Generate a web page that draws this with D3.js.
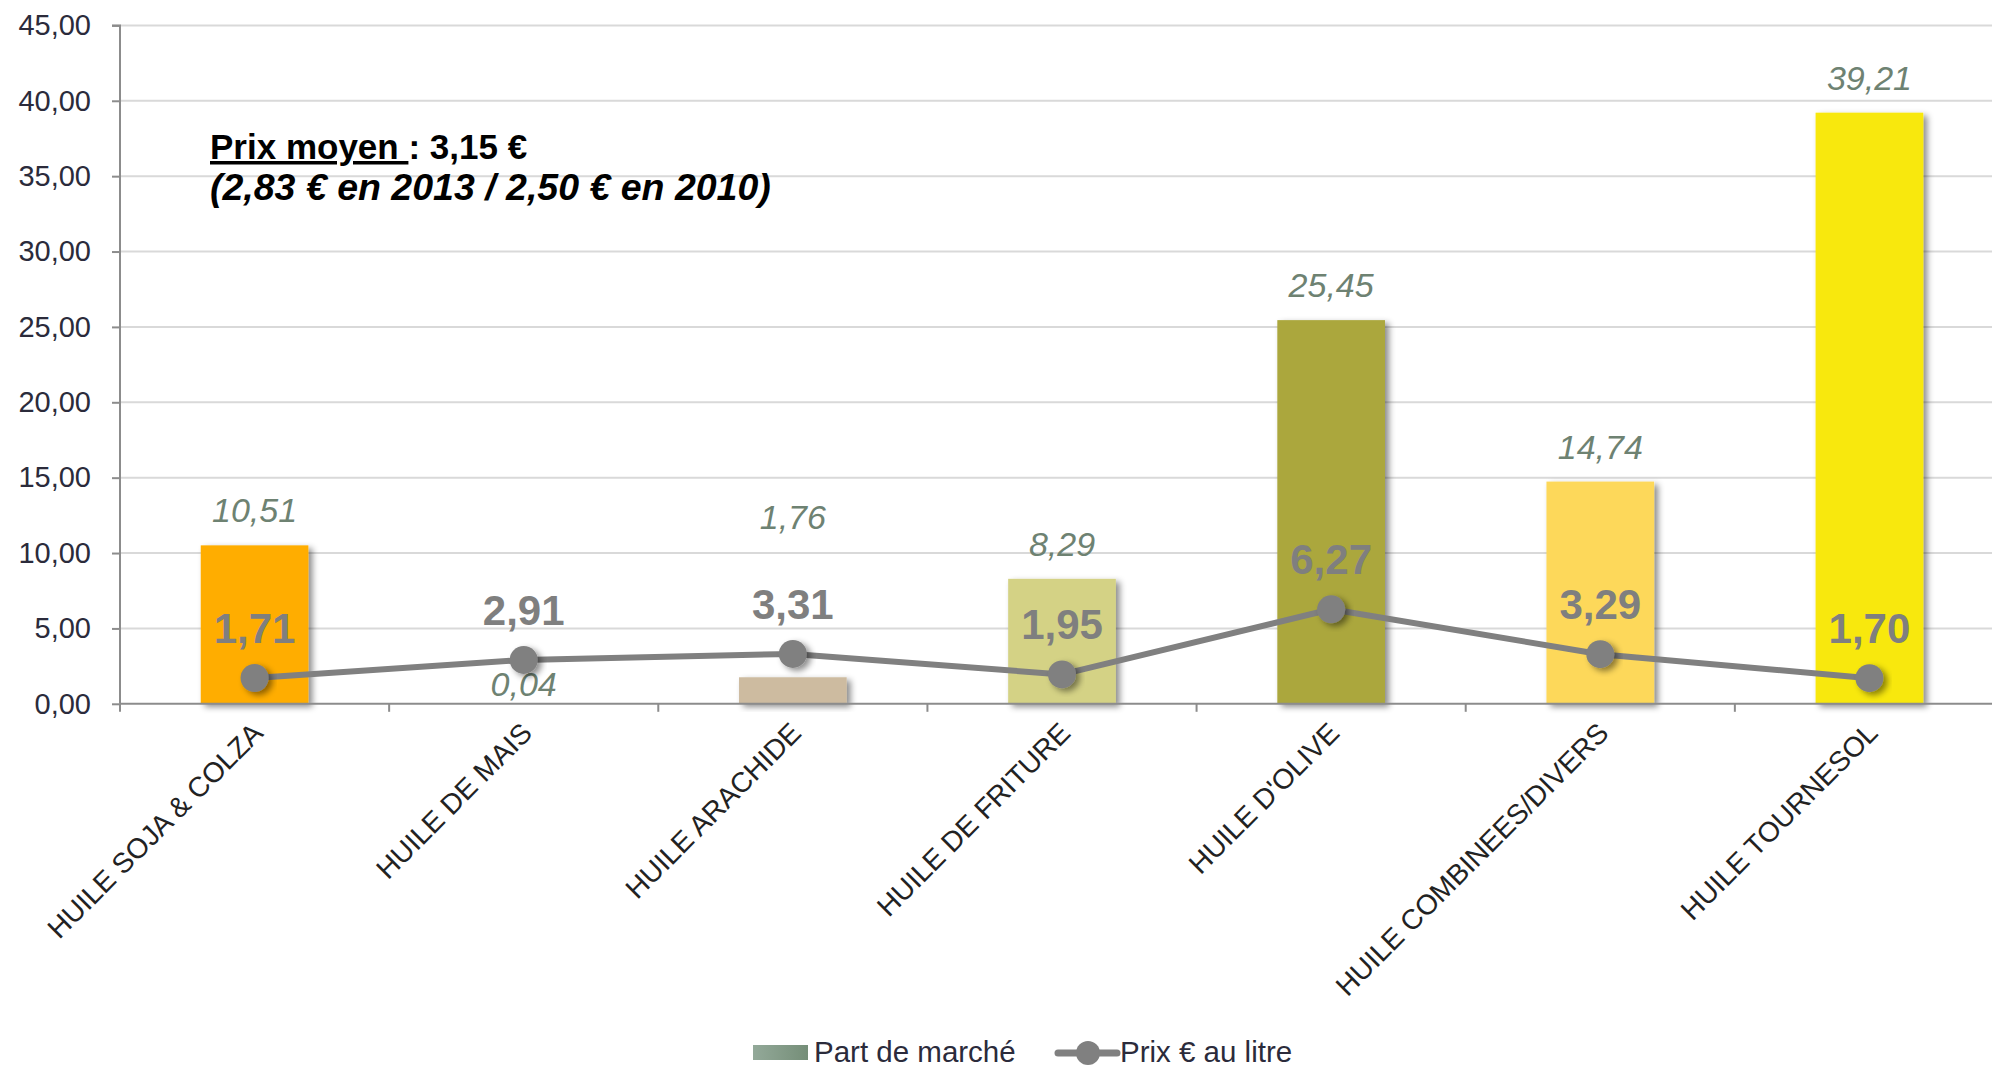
<!DOCTYPE html>
<html>
<head>
<meta charset="utf-8">
<script src="https://cdn.jsdelivr.net/npm/d3@7"></script>
<style>
  html, body { margin: 0; padding: 0; background: #fff; }
  svg { display: block; }
</style>
</head>
<body>
<svg id="chart" width="1992" height="1067"></svg>
<script>
// ---- Data ----
const categories = ["HUILE SOJA & COLZA", "HUILE DE MAIS", "HUILE ARACHIDE", "HUILE DE FRITURE", "HUILE D'OLIVE", "HUILE COMBINEES/DIVERS", "HUILE TOURNESOL"];
const partDeMarche = [10.51, 0.04, 1.76, 8.29, 25.45, 14.74, 39.21];
const prixLitre = [1.71, 2.91, 3.31, 1.95, 6.27, 3.29, 1.70];
const barColors = ["#FFAD00", "#E3D49A", "#CDBBA0", "#D4D285", "#ABA73C", "#FDD85A", "#F8E80F"];
const yTicks = [0, 5, 10, 15, 20, 25, 30, 35, 40, 45];
const seriesNames = ["Part de marché", "Prix € au litre"];
const noteLine1a = "Prix moyen ";
const noteLine1b = ": 3,15 €";
const noteLine2 = "(2,83 € en 2013 / 2,50 € en 2010)";

// ---- Setup ----
const locale = d3.formatLocale({decimal: ",", thousands: " ", grouping: [3], currency: ["", " €"]});
const fmt2 = locale.format(".2f");
const FONT = "Liberation Sans, Arial, sans-serif";

const svg = d3.select("#chart");
const mLeft = 120, mRight = 2004, mTop = 25.4, mBottom = 703.8;

const defs = svg.append("defs");
const shadow = defs.append("filter").attr("id", "shadow")
  .attr("x", "-20%").attr("y", "-20%").attr("width", "150%").attr("height", "150%");
shadow.append("feDropShadow").attr("dx", 4).attr("dy", 3).attr("stdDeviation", 3)
  .attr("flood-color", "#000").attr("flood-opacity", 0.45);
const grad = defs.append("linearGradient").attr("id", "legendGrad");
grad.append("stop").attr("offset", "0%").attr("stop-color", "#93A999");
grad.append("stop").attr("offset", "100%").attr("stop-color", "#758E78");

const x = d3.scaleBand().domain(categories).range([mLeft, mRight]).paddingInner(0.6).paddingOuter(0.3);
const xCat = d3.scaleBand().domain(categories).range([mLeft, mRight]).padding(0);
const y = d3.scaleLinear().domain([0, 45]).range([mBottom, mTop]);

// Gridlines
svg.append("g").selectAll("line").data(yTicks.filter(d => d > 0)).join("line")
  .attr("x1", mLeft).attr("x2", 1992)
  .attr("y1", d => y(d)).attr("y2", d => y(d))
  .attr("stroke", "#d9d9d9").attr("stroke-width", 2);

// Y axis
const yAxis = svg.append("g").attr("transform", `translate(${mLeft},0)`)
  .call(d3.axisLeft(y).tickValues(yTicks).tickFormat(fmt2).tickSize(8).tickPadding(21));
yAxis.select(".domain").attr("stroke", "#8c8c8c").attr("stroke-width", 2).attr("d", `M-8,${mTop}H0V${mBottom}`);
yAxis.selectAll(".tick line").attr("stroke", "#8c8c8c").attr("stroke-width", 2);
yAxis.selectAll(".tick text").attr("font-family", FONT).attr("font-size", 29).attr("fill", "#2b2b3b");

// Bars
svg.append("g").selectAll("rect").data(categories).join("rect")
  .attr("x", d => x(d))
  .attr("width", x.bandwidth())
  .attr("y", (d, i) => y(partDeMarche[i]))
  .attr("height", (d, i) => y(0) - y(partDeMarche[i]))
  .attr("fill", (d, i) => barColors[i])
  .attr("filter", "url(#shadow)");

// X axis (domain + boundary ticks)
const xg = svg.append("g");
xg.append("line").attr("x1", mLeft).attr("x2", 1992).attr("y1", y(0)).attr("y2", y(0))
  .attr("stroke", "#8c8c8c").attr("stroke-width", 2);
xg.selectAll("line.tick").data(categories).join("line").attr("class", "tick")
  .attr("x1", d => xCat(d)).attr("x2", d => xCat(d))
  .attr("y1", y(0)).attr("y2", y(0) + 8)
  .attr("stroke", "#8c8c8c").attr("stroke-width", 2);
xg.selectAll("text").data(categories).join("text")
  .attr("transform", d => `translate(${x(d) + x.bandwidth() / 2 + 3},${y(0) + 24}) rotate(-45)`)
  .attr("text-anchor", "end").attr("dy", "0.35em")
  .attr("font-family", FONT).attr("font-size", 28.1).attr("fill", "#222")
  .text(d => d);

// Bar value labels
const barLabelDy = [-23, 0, 0, -23, -23, -23, -23];
svg.append("g").selectAll("text").data(categories).join("text")
  .attr("x", d => x(d) + x.bandwidth() / 2)
  .attr("y", (d, i) => {
    if (i === 1) return y(0) - 8;
    if (i === 2) return y(11.6);
    return y(partDeMarche[i]) + barLabelDy[i];
  })
  .attr("text-anchor", "middle")
  .attr("font-family", FONT).attr("font-style", "italic")
  .attr("font-size", 34).attr("fill", "#6E8272")
  .text((d, i) => fmt2(partDeMarche[i]));

// Price line
const line = d3.line().x((d, i) => x(categories[i]) + x.bandwidth() / 2).y(d => y(d));
svg.append("path").datum(prixLitre).attr("d", line)
  .attr("fill", "none").attr("stroke", "#808080").attr("stroke-width", 6).attr("stroke-linejoin", "round");
svg.append("g").selectAll("circle").data(prixLitre).join("circle")
  .attr("cx", (d, i) => x(categories[i]) + x.bandwidth() / 2)
  .attr("cy", d => y(d)).attr("r", 14)
  .attr("fill", "#808080").attr("filter", "url(#shadow)");
svg.append("g").selectAll("text").data(prixLitre).join("text")
  .attr("x", (d, i) => x(categories[i]) + x.bandwidth() / 2)
  .attr("y", d => y(d) - 35)
  .attr("text-anchor", "middle")
  .attr("font-family", FONT).attr("font-weight", "bold")
  .attr("font-size", 42).attr("fill", "#7f7f7f")
  .text(d => fmt2(d));

// Annotation
const note = svg.append("g").attr("font-family", FONT).attr("font-weight", "bold").attr("fill", "#000");
const t1 = note.append("text").attr("x", 210).attr("y", 159).attr("font-size", 35);
t1.append("tspan").attr("text-decoration", "underline").text(noteLine1a);
t1.append("tspan").text(noteLine1b);
note.append("text").attr("x", 210).attr("y", 200).attr("font-size", 37.5).attr("font-style", "italic").text(noteLine2);

// Legend
const lg = svg.append("g").attr("font-family", FONT).attr("font-size", 29.5).attr("fill", "#2b2b3b");
lg.append("rect").attr("x", 753).attr("y", 1045).attr("width", 55).attr("height", 15).attr("fill", "url(#legendGrad)");
lg.append("text").attr("x", 814).attr("y", 1062).text(seriesNames[0]);
lg.append("line").attr("x1", 1058).attr("x2", 1117).attr("y1", 1053).attr("y2", 1053)
  .attr("stroke", "#808080").attr("stroke-width", 7).attr("stroke-linecap", "round");
lg.append("circle").attr("cx", 1088).attr("cy", 1053).attr("r", 12).attr("fill", "#808080");
lg.append("text").attr("x", 1120).attr("y", 1062).text(seriesNames[1]);
</script>
</body>
</html>
